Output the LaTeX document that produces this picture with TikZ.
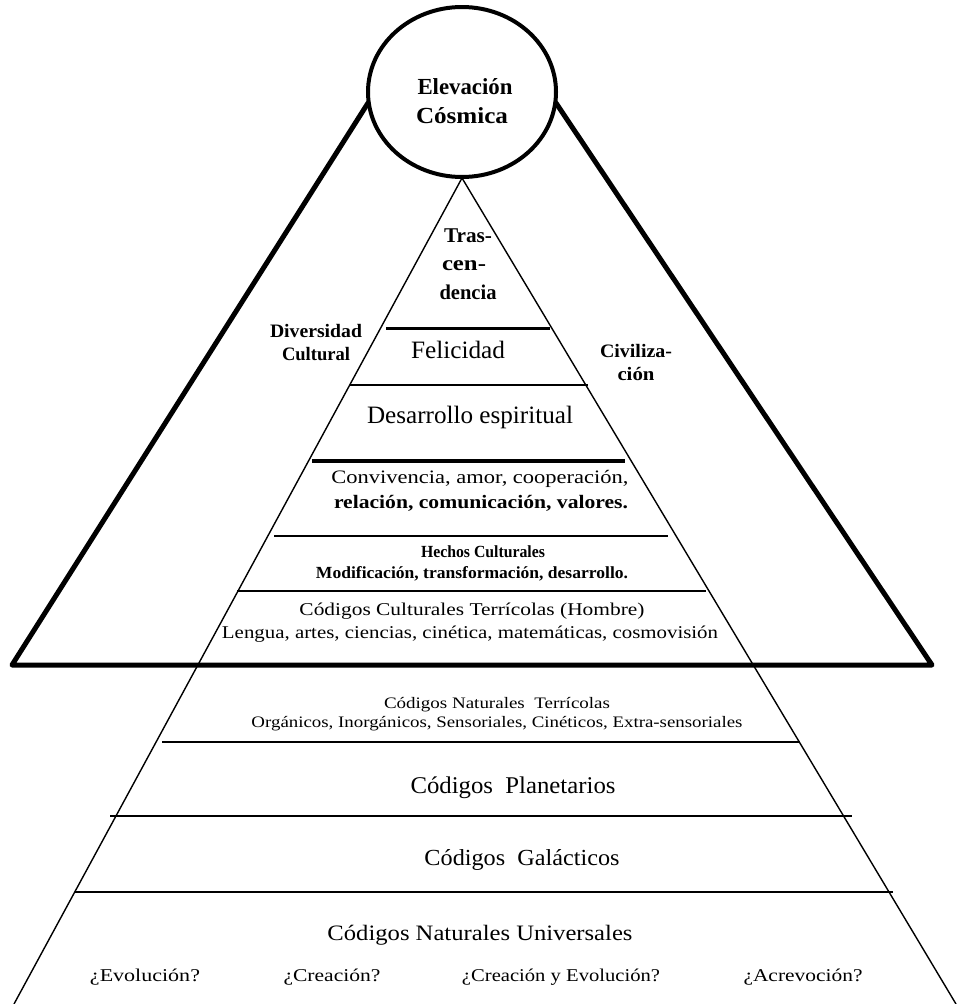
\documentclass[tikz,border=0pt]{standalone}
\usepackage{fontspec}
\setmainfont{Liberation Serif}
\usepackage{graphicx}
\usetikzlibrary{shapes.geometric}
\newcommand{\fw}[2]{\resizebox{#1pt}{\height}{#2}}
\tikzset{
  thickline/.style={line width=5pt, line cap=round, line join=round},
  edge/.style={line width=1.4pt},
  sep/.style={line width=2pt},
  lbl/.style={anchor=base, inner sep=0pt, outer sep=0pt},
}
\begin{document}
\begin{tikzpicture}[x=1pt,y=-1pt]
\useasboundingbox (0,0) rectangle (958,1004);
% key coordinates
\coordinate (apex) at (462,178);
\coordinate (bl) at (14,1004);
\coordinate (br) at (956,1004);
\coordinate (ol) at (368,103);
\coordinate (or) at (556,103);
\coordinate (bbl) at (12,665);
\coordinate (bbr) at (932,665);
% inner pyramid
\draw[edge] (bl) -- (apex) -- (br);
% outer triangle
\draw[thickline] (ol) -- (bbl) -- (bbr) -- (or);
% circle
\node[draw, line width=4pt, ellipse, minimum width=188pt, minimum height=170pt, inner sep=0pt, fill=white] (circ) at (462,92) {};
% separators
\coordinate (s1l) at (386,328); \coordinate (s1r) at (550,328);
\coordinate (s2l) at (350,385); \coordinate (s2r) at (588,385);
\coordinate (s3l) at (312,461); \coordinate (s3r) at (625,461);
\coordinate (s4l) at (274,536); \coordinate (s4r) at (668,536);
\coordinate (s5l) at (237,591); \coordinate (s5r) at (706,591);
\coordinate (s6l) at (162,742); \coordinate (s6r) at (800,742);
\coordinate (s7l) at (110,816); \coordinate (s7r) at (852,816);
\coordinate (s8l) at (75,892); \coordinate (s8r) at (893,892);
\draw[line width=3pt] (s1l) -- (s1r);
\draw[sep] (s2l) -- (s2r);
\draw[line width=4.5pt] (s3l) -- (s3r);
\draw[sep] (s4l) -- (s4r);
\draw[sep] (s5l) -- (s5r);
\draw[sep] (s6l) -- (s6r);
\draw[sep] (s7l) -- (s7r);
\draw[sep] (s8l) -- (s8r);
% texts
\node[lbl, font=\fontsize{23}{23}\selectfont\bfseries] (t1) at (465,94) {\fw{95}{Elevación}};
\node[lbl, font=\fontsize{23}{23}\selectfont\bfseries] (t2) at (462,123) {\fw{92}{Cósmica}};
\node[lbl, font=\fontsize{21}{21}\selectfont\bfseries] (t3) at (468,242) {\fw{48}{Tras-}};
\node[lbl, font=\fontsize{21}{21}\selectfont\bfseries] (t4) at (464,270) {\fw{44}{cen-}};
\node[lbl, font=\fontsize{21}{21}\selectfont\bfseries] (t5) at (468,299) {\fw{57}{dencia}};
\node[lbl, font=\fontsize{19}{19}\selectfont\bfseries] (t6) at (316,337) {\fw{92}{Diversidad}};
\node[lbl, font=\fontsize{19}{19}\selectfont\bfseries] (t7) at (316,360) {\fw{68}{Cultural}};
\node[lbl, font=\fontsize{25}{25}\selectfont] (t8) at (458,358) {\fw{94}{Felicidad}};
\node[lbl, font=\fontsize{19}{19}\selectfont\bfseries] (t9) at (636,357) {\fw{72}{Civiliza-}};
\node[lbl, font=\fontsize{19}{19}\selectfont\bfseries] (t10) at (636,380) {\fw{37}{ción}};
\node[lbl, font=\fontsize{25}{25}\selectfont] (t11) at (470,423) {\fw{206}{Desarrollo espiritual}};
\node[lbl, font=\fontsize{19}{19}\selectfont] (t12) at (480,483) {\fw{297}{Convivencia, amor, cooperación,}};
\node[lbl, font=\fontsize{19}{19}\selectfont\bfseries] (t13) at (481,508) {\fw{294}{relación, comunicación, valores.}};
\node[lbl, font=\fontsize{17}{17}\selectfont\bfseries] (t14) at (483,557) {\fw{124}{Hechos Culturales}};
\node[lbl, font=\fontsize{17}{17}\selectfont\bfseries] (t15) at (472,578) {\fw{312}{Modificación, transformación, desarrollo.}};
\node[lbl, font=\fontsize{18}{18}\selectfont] (t16) at (472,615) {\fw{345}{Códigos Culturales Terrícolas (Hombre)}};
\node[lbl, font=\fontsize{18}{18}\selectfont] (t17) at (470,638) {\fw{496}{Lengua, artes, ciencias, cinética, matemáticas, cosmovisión}};
\node[lbl, font=\fontsize{16}{16}\selectfont] (t18) at (497,708) {\fw{226}{Códigos Naturales\ \ Terrícolas}};
\node[lbl, font=\fontsize{16}{16}\selectfont] (t19) at (497,727) {\fw{491}{Orgánicos, Inorgánicos, Sensoriales, Cinéticos, Extra-sensoriales}};
\node[lbl, font=\fontsize{24}{24}\selectfont] (t20) at (513,793) {\fw{205}{Códigos\ \ Planetarios}};
\node[lbl, font=\fontsize{23}{23}\selectfont] (t21) at (522,865) {\fw{195}{Códigos\ \ Galácticos}};
\node[lbl, font=\fontsize{22}{22}\selectfont] (t22) at (480,940) {\fw{305}{Códigos Naturales Universales}};
\node[lbl, font=\fontsize{18}{18}\selectfont] (q1) at (145,981) {\fw{110}{¿Evolución?}};
\node[lbl, font=\fontsize{18}{18}\selectfont] (q2) at (332,981) {\fw{97}{¿Creación?}};
\node[lbl, font=\fontsize{18}{18}\selectfont] (q3) at (561,981) {\fw{198}{¿Creación y Evolución?}};
\node[lbl, font=\fontsize{18}{18}\selectfont] (q4) at (803,981) {\fw{119}{¿Acrevoción?}};
\end{tikzpicture}
\end{document}
